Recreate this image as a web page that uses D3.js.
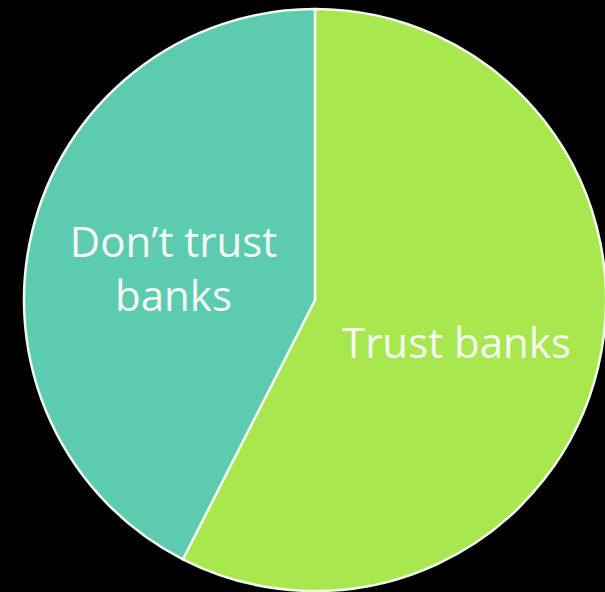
<!DOCTYPE html>
<html>
<head>
<meta charset="utf-8">
<script src="https://cdn.jsdelivr.net/npm/d3@7"></script>
<style>
  html, body { margin: 0; padding: 0; background: #000; }
  svg { display: block; }
</style>
</head>
<body>
<svg id="chart" width="605" height="592"></svg>
<script>
// Share of respondents by attitude toward banks (percent)
const categories = ["Trust banks", "Don't trust banks"];
const values = [57.5, 42.5];
const labelLines = [["Trust banks"], ["Don\u2019t trust", "banks"]];
const colors = ["#a9e74f", "#5ccbaf"];

const width = 605, height = 592;
const cx = 315, cy = 300, radius = 291;

const svg = d3.select("#chart");
svg.append("rect").attr("width", width).attr("height", height).attr("fill", "#000");

const g = svg.append("g").attr("transform", `translate(${cx},${cy})`);

const pie = d3.pie().sort(null).value(d => d.value);
const arcs = pie(categories.map((c, i) => ({ name: c, value: values[i], lines: labelLines[i], color: colors[i] })));

const arc = d3.arc().innerRadius(0).outerRadius(radius);

g.selectAll("path.slice")
  .data(arcs)
  .join("path")
  .attr("class", "slice")
  .attr("d", arc)
  .attr("fill", d => d.data.color)
  .attr("stroke", "#f2f8ee")
  .attr("stroke-width", 2.5)
  .attr("stroke-linejoin", "round");

const fontSize = 42, lineHeight = 54;
const labels = g.selectAll("text.label")
  .data(arcs)
  .join("text")
  .attr("class", "label")
  .attr("text-anchor", "middle")
  .attr("font-family", "'Open Sans', Lato, sans-serif")
  .attr("font-size", fontSize)
  .attr("fill", "#f4faf2")
  .attr("transform", d => {
    const [x, y] = arc.centroid(d);
    return `translate(${x},${y})`;
  });

labels.each(function(d) {
  const n = d.data.lines.length;
  const sel = d3.select(this);
  d.data.lines.forEach((line, i) => {
    sel.append("tspan")
      .attr("x", 0)
      .attr("y", (i - (n - 1) / 2) * lineHeight + fontSize * 0.42 + (n === 1 ? 6 : 0))
      .text(line);
  });
});
</script>
</body>
</html>
